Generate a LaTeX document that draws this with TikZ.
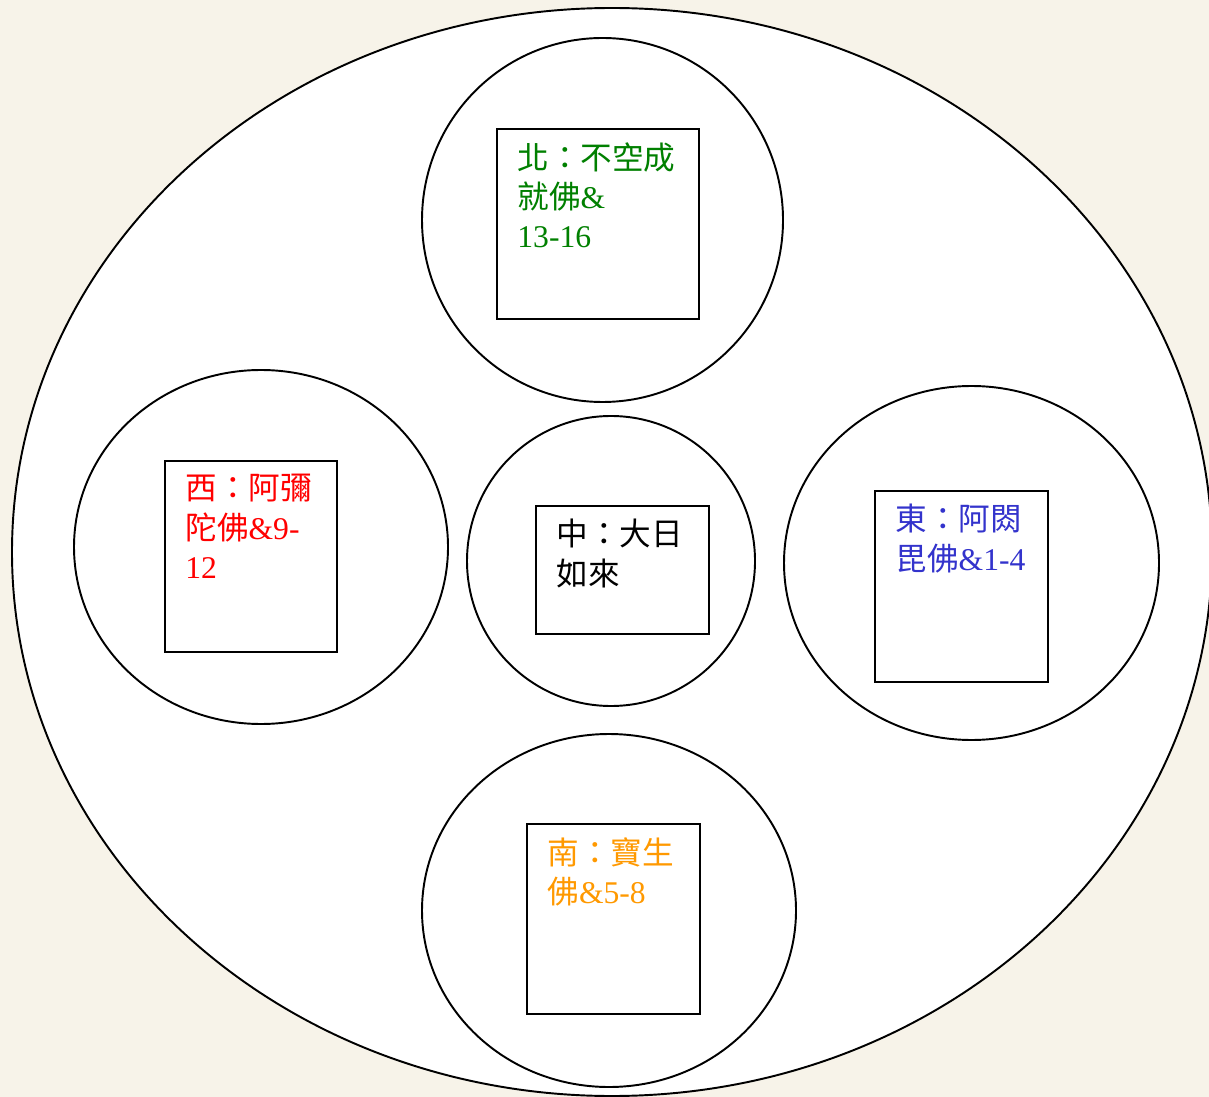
\documentclass[tikz,border=0pt]{standalone}
\usepackage{fontspec}
\setmainfont{Liberation Serif}
\newfontfamily\cjk{Noto Sans CJK TC}
\usetikzlibrary{positioning, shapes.geometric}
\definecolor{paper}{RGB}{247,243,233}
\definecolor{northgreen}{RGB}{0,128,0}
\definecolor{westred}{RGB}{255,0,0}
\definecolor{eastblue}{RGB}{51,51,204}
\definecolor{southorange}{RGB}{255,153,0}
\newcommand{\pxl}{0.02cm}
\newcommand{\zh}[1]{{\cjk #1}}
\tikzset{
  ring/.style = {ellipse, draw, line width=1.1pt, fill=white, inner sep=0pt},
  seat/.style = {rectangle, draw, line width=1.1pt, fill=white, inner sep=0pt},
  buddha/.style = {anchor=north west, align=left, inner sep=0pt,
                   font=\fontsize{18}{22.4}\selectfont}
}

\begin{document}
\begin{tikzpicture}[x=0.02cm, y=-0.02cm]
\clip (0,0) rectangle (1209,1097);
\fill[paper] (0,0) rectangle (1209,1097);
\node[ring, minimum width=1200*\pxl, minimum height=1088*\pxl] (world) at (612,552) {};

\node[ring, minimum width=361*\pxl, minimum height=364*\pxl] (north) at (602.5,220) {};
\node[ring, minimum width=374*\pxl, minimum height=354*\pxl] (west)  at (261,547) {};
\node[ring, minimum width=288*\pxl, minimum height=290*\pxl] (centre) at (611,561) {};
\node[ring, minimum width=375*\pxl, minimum height=354*\pxl] (east)  at (971.5,563) {};
\node[ring, minimum width=374*\pxl, minimum height=353*\pxl] (south) at (609,910.5) {};

\node[seat, minimum width=202*\pxl, minimum height=190*\pxl] (nseat) at (598,224) {};
\node[seat, minimum width=172*\pxl, minimum height=191*\pxl] (wseat) at (251,556.5) {};
\node[seat, minimum width=173*\pxl, minimum height=128*\pxl] (cseat) at (622.5,570) {};
\node[seat, minimum width=173*\pxl, minimum height=191*\pxl] (eseat) at (961.5,586.5) {};
\node[seat, minimum width=173*\pxl, minimum height=190*\pxl] (sseat) at (613.5,919) {};

\node[buddha, text=northgreen] (nname) at ([shift={(21,14)}]nseat.north west)
  {\zh{北：不空成}\\\zh{就佛}\&\\13-16};
\node[buddha, text=westred] (wname) at ([shift={(21,14)}]wseat.north west)
  {\zh{西：阿彌}\\\zh{陀佛}\&9-\\12};
\node[buddha] (cname) at ([shift={(21,14)}]cseat.north west)
  {\zh{中：大日}\\\zh{如來}};
\node[buddha, text=eastblue] (ename) at ([shift={(21,14)}]eseat.north west)
  {\zh{東：阿閦}\\\zh{毘佛}\&1-4};
\node[buddha, text=southorange] (sname) at ([shift={(21,14)}]sseat.north west)
  {\zh{南：寶生}\\\zh{佛}\&5-8};
\end{tikzpicture}
\end{document}
